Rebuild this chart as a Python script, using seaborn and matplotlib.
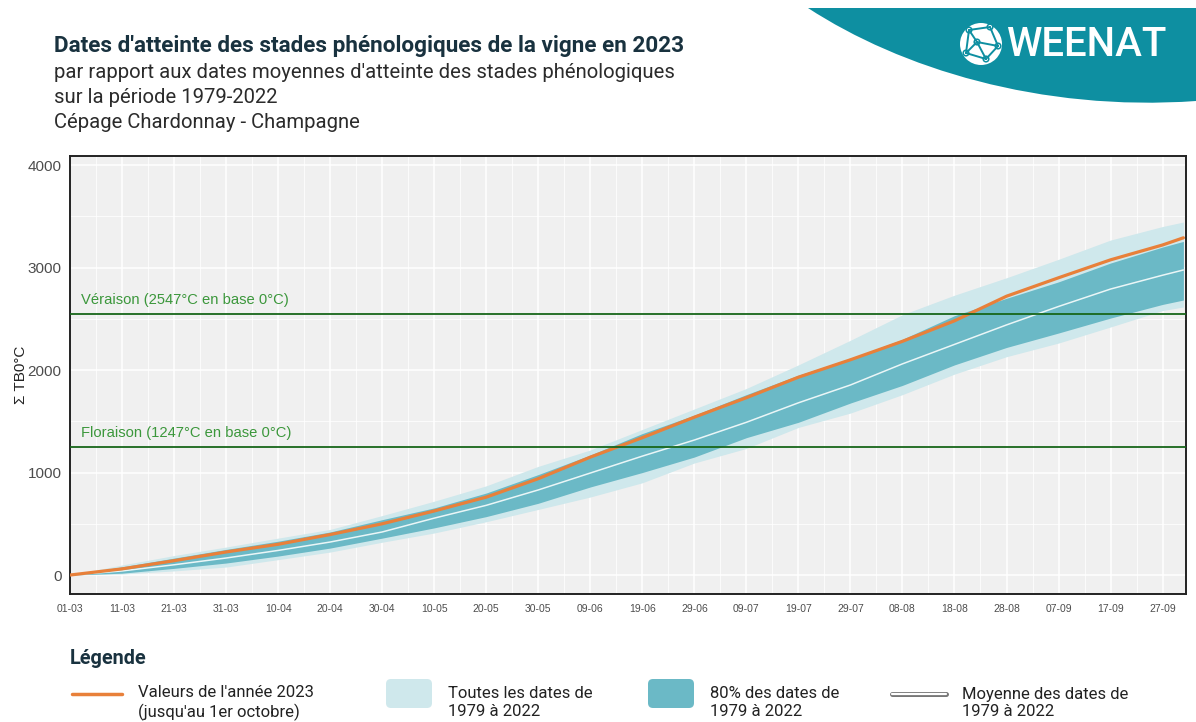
import matplotlib
matplotlib.use("Agg")
import matplotlib.pyplot as plt
import matplotlib.patheffects as pe
import matplotlib.transforms as mtransforms
from matplotlib.patches import Circle, FancyBboxPatch, PathPatch
from matplotlib.path import Path
from matplotlib.lines import Line2D
from matplotlib.ticker import MultipleLocator
import pandas as pd
import seaborn as sns

# ---------------------------------------------------------------------------
# Data — day 0 = 1 March, day 214 = 1 October
# ---------------------------------------------------------------------------
DAYS = [0, 10, 20, 30, 40, 50, 60, 70, 80, 90, 100, 110, 120, 130, 140,
        150, 160, 170, 180, 190, 200, 210, 214]
YEAR_2023 = [0, 60, 140, 225, 300, 395, 500, 625, 760, 940, 1150, 1340, 1540,
             1730, 1930, 2100, 2280, 2480, 2720, 2900, 3075, 3220, 3290]
MEAN = [0, 40, 100, 166, 240, 322, 420, 555, 680, 830, 995, 1160, 1317,
        1490, 1680, 1854, 2060, 2250, 2440, 2620, 2790, 2925, 2976]
P10 = [0, 18, 65, 117, 185, 263, 360, 460, 570, 700, 859, 1000, 1151,
       1340, 1490, 1678, 1850, 2050, 2220, 2361, 2507, 2640, 2683]
P90 = [0, 80, 165, 250, 330, 420, 540, 655, 800, 980, 1171, 1380, 1560,
       1760, 1950, 2110, 2300, 2530, 2700, 2860, 3044, 3200, 3255]
MIN = [0, 10, 40, 78, 150, 224, 320, 410, 520, 640, 761, 900, 1093,
       1235, 1440, 1580, 1760, 1960, 2130, 2263, 2420, 2580, 2615]
MAX = [0, 98, 190, 273, 360, 445, 580, 720, 870, 1060, 1220, 1420, 1620,
       1820, 2050, 2290, 2540, 2730, 2900, 3080, 3268, 3400, 3444]

STAGES = ["Floraison", "Véraison"]
STAGE_SUMS = [1247, 2547]

TICK_DAYS = list(range(0, 211, 10))
TICK_LABELS = ["01-03", "11-03", "21-03", "31-03", "10-04", "20-04", "30-04",
               "10-05", "20-05", "30-05", "09-06", "19-06", "29-06", "09-07",
               "19-07", "29-07", "08-08", "18-08", "28-08", "07-09", "17-09",
               "27-09"]

ORANGE = "#E8803A"
LIGHT = "#CFE8EC"
DARK = "#6BB9C6"
TEAL = "#0E8FA1"
NAVY = "#19323F"
GREEN_LINE = "#17661A"
GREEN_TEXT = "#3B973B"

W, H = 1196, 722


def fx(x):
    return x / W


def fy(y):
    return 1 - y / H


sns.set_style("white")
plt.rcParams["font.family"] = ["Liberation Sans", "DejaVu Sans"]

df = pd.DataFrame({"day": DAYS, "y2023": YEAR_2023, "mean": MEAN,
                   "p10": P10, "p90": P90, "lo": MIN, "hi": MAX})

fig = plt.figure(figsize=(W / 100, H / 100), dpi=100)
# pixel transform (origin top-left) for decorations
px = mtransforms.Affine2D().scale(1 / 100, -1 / 100).translate(0, H / 100) \
    + fig.dpi_scale_trans

ax = fig.add_axes([fx(70), fy(594), fx(1186) - fx(70), fy(156) - fy(594)])
ax.set_facecolor("#F0F0F0")

# grid (ggplot-like, white major + minor)
ax.xaxis.set_major_locator(plt.FixedLocator(TICK_DAYS))
ax.xaxis.set_minor_locator(MultipleLocator(5))
ax.yaxis.set_major_locator(MultipleLocator(1000))
ax.yaxis.set_minor_locator(MultipleLocator(500))
ax.grid(which="major", color="white", lw=1.1, zorder=0)
ax.grid(which="minor", color="white", lw=0.55, zorder=0)
ax.set_axisbelow(True)

ax.fill_between(df["day"], df["lo"], df["hi"], color=LIGHT, lw=0, zorder=1)
ax.fill_between(df["day"], df["p10"], df["p90"], color=DARK, lw=0, zorder=2)
sns.lineplot(data=df, x="day", y="mean", ax=ax, color="#EAF6F7", lw=1.1,
             zorder=3)
sns.lineplot(data=df, x="day", y="y2023", ax=ax, color=ORANGE, lw=2.3,
             zorder=4)

for name, val in zip(STAGES, STAGE_SUMS):
    ax.axhline(val, color=GREEN_LINE, lw=1.3, zorder=5)
    ax.annotate(f"{name} ({val}°C en base 0°C)", xy=(2.2, val),
                xytext=(0, 5), textcoords="offset points", color=GREEN_TEXT,
                fontsize=10.6, va="bottom", ha="left")

ax.set_xlim(0, 214.5)
ax.set_ylim(-185, 4088)
ax.set_xticks(TICK_DAYS)
ax.set_xticklabels(TICK_LABELS)
ax.tick_params(axis="x", which="major", labelsize=7.5, colors="#4D4D4D",
               length=4, width=1, color="#333333", pad=3)
ax.tick_params(axis="y", which="major", labelsize=11, colors="#4D4D4D",
               length=4, width=1, color="#333333", pad=2)
ax.tick_params(which="minor", length=0)
ax.set_xlabel("")
ax.set_ylabel("Σ TB0°C", fontsize=11, color="#222222", labelpad=0)
for s in ax.spines.values():
    s.set_visible(True)
    s.set_color("#222222")
    s.set_linewidth(1.4)

# ---------------------------------------------------------------------------
# Title block
# ---------------------------------------------------------------------------
TITLE_FONT = ["Roboto", "DejaVu Sans"]
fig.text(54, 46, "Dates d'atteinte des stades phénologiques de la vigne en 2023",
         transform=px, fontsize=16.2, fontweight="bold", color=NAVY,
         family=TITLE_FONT, va="center", ha="left")
subtitle = ["par rapport aux dates moyennes d'atteinte des stades phénologiques",
            "sur la période 1979-2022",
            "Cépage Chardonnay - Champagne"]
for i, line in enumerate(subtitle):
    fig.text(54, 73 + 24.5 * i, line, transform=px, fontsize=14.6,
             color="#2B2B2B", family=TITLE_FONT, va="center", ha="left")

# ---------------------------------------------------------------------------
# Logo banner
# ---------------------------------------------------------------------------
banner = Path([(808, 8), (900, 68), (1040, 112), (1196, 101), (1196, 8),
               (808, 8)],
              [Path.MOVETO, Path.CURVE4, Path.CURVE4, Path.CURVE4,
               Path.LINETO, Path.CLOSEPOLY])
fig.patches.append(PathPatch(banner, transform=px, color=TEAL, lw=0))
fig.patches.append(Circle((981, 44), 21, transform=px, color="white", lw=0))
nodes = [(969, 30), (990, 27), (998, 46), (986, 59), (966, 53), (977, 42)]
edges = [(0, 1), (1, 2), (2, 3), (3, 4), (4, 0), (0, 5), (5, 2), (5, 3),
         (5, 4)]
for a, b in edges:
    fig.lines.append(Line2D([nodes[a][0], nodes[b][0]],
                            [nodes[a][1], nodes[b][1]],
                            transform=px, color=TEAL, lw=1.4))
for nx, ny in nodes:
    fig.patches.append(Circle((nx, ny), 2.8, transform=px, color="white",
                              ec=TEAL, lw=1.1))
fig.text(1006, 45, "WEENAT", transform=px, fontsize=29, fontweight="medium",
         color="white", family=TITLE_FONT, va="center", ha="left")

# ---------------------------------------------------------------------------
# Legend (bottom)
# ---------------------------------------------------------------------------
fig.text(70, 658, "Légende", transform=px, fontsize=14.3, fontweight="bold",
         color=NAVY, family=TITLE_FONT, va="center", ha="left")

LEG_FS = 12


def legend_text(x, txt):
    fig.text(x, 703, txt, transform=px, fontsize=LEG_FS, color="#222222",
             family=TITLE_FONT, va="center", ha="left", linespacing=1.25)


fig.lines.append(Line2D([72, 122], [694, 694], transform=px, color=ORANGE,
                        lw=2.5))
legend_text(138, "Valeurs de l'année 2023\n(jusqu'au 1er octobre)")

for x0, col, txt in [(386, LIGHT, "Toutes les dates de\n1979 à 2022"),
                     (648, DARK, "80% des dates de\n1979 à 2022")]:
    box = FancyBboxPatch((x0, 679), 46, 29,
                         boxstyle="round,pad=0,rounding_size=5",
                         transform=px, color=col, lw=0)
    fig.patches.append(box)
    legend_text(x0 + 62, txt)

fig.lines.append(Line2D([892, 946], [694, 694], transform=px, color="white",
                        lw=1.6,
                        path_effects=[pe.Stroke(linewidth=3.6,
                                                foreground="#777777"),
                                      pe.Normal()]))
legend_text(962, "Moyenne des dates de\n1979 à 2022")

fig.savefig("out.png", dpi=100, facecolor="white")
